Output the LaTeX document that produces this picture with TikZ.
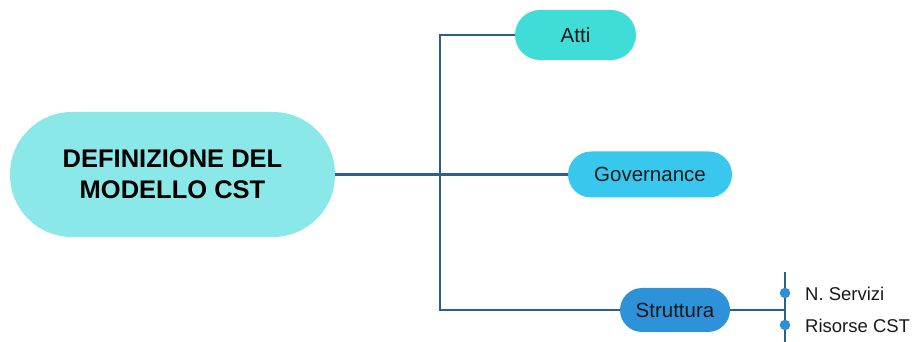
\documentclass[tikz,border=0pt]{standalone}
\usepackage{fontspec}
\setmainfont{Liberation Sans}
\begin{document}
\begin{tikzpicture}[x=1pt,y=1pt,
  conn/.style={draw=linec, line width=2.4pt},
  pill/.style={rectangle, inner sep=0pt, align=center, text=black!90},
  leaf/.style={anchor=west, inner sep=0pt, font=\fontsize{18.5}{22}\selectfont, text=black!90},
  dotn/.style={circle, fill=dotc, inner sep=0pt, minimum size=10.5pt}]
\definecolor{linec}{HTML}{2D5E8E}
\definecolor{mainc}{HTML}{8AE9E8}
\definecolor{attic}{HTML}{40DCD8}
\definecolor{govc}{HTML}{38C8EE}
\definecolor{strc}{HTML}{2E92DA}
\definecolor{dotc}{HTML}{2E8FD9}
\useasboundingbox (0,0) rectangle (915,342);
% nodes
\node[pill, fill=mainc, minimum width=325pt, minimum height=125pt, rounded corners=62pt,
  text=black, font=\fontsize{25.5}{31}\selectfont\bfseries] (main) at (172.5,167.5) {DEFINIZIONE DEL\\MODELLO CST};
\node[pill, fill=attic, minimum width=121pt, minimum height=50pt, rounded corners=25pt,
  font=\fontsize{20.5}{24}\selectfont] (atti) at (575.5,307) {Atti};
\node[pill, fill=govc, minimum width=164pt, minimum height=46pt, rounded corners=23pt,
  font=\fontsize{20.5}{24}\selectfont] (gov) at (650,167.5) {Governance};
\node[pill, fill=strc, minimum width=110pt, minimum height=44pt, rounded corners=22pt,
  font=\fontsize{20.5}{24}\selectfont] (str) at (675,32) {Struttura};
% connectors
\coordinate (j) at (440,167.5);
\draw[conn] (main.east) -- (gov.west);
\draw[conn] (atti.west) -| (j) |- (str.west);
% sub-branch
\coordinate (bt) at (785,70);
\coordinate (bb) at (785,0);
\coordinate (bm) at (785,32);
\draw[conn] (str.east) -- (bm);
\draw[conn] (bt) -- (bb);
\node[dotn] (d1) at (785,49) {};
\node[dotn] (d2) at (785,17) {};
\node[leaf] (n1) at (805,48) {N. Servizi};
\node[leaf] (n2) at (805,16) {Risorse CST};
\end{tikzpicture}
\end{document}
